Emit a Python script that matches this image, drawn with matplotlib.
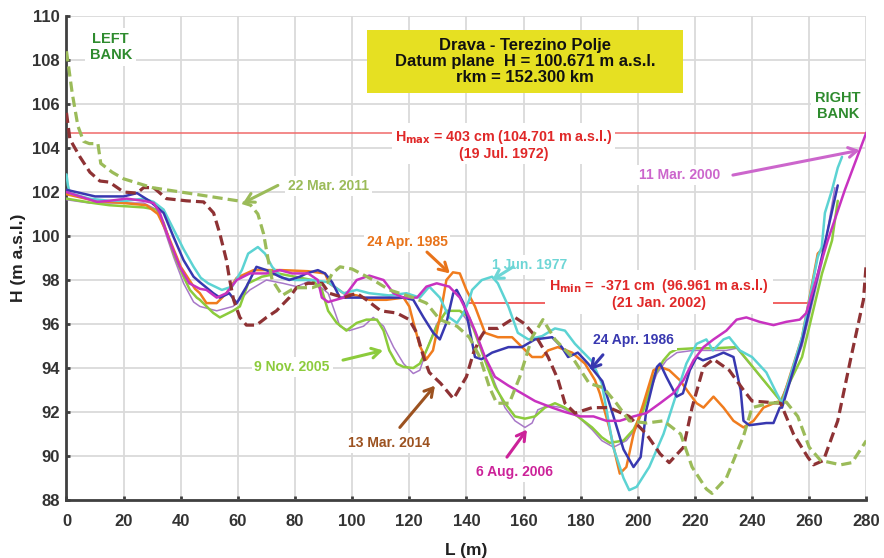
import numpy as np
import matplotlib
matplotlib.use('Agg')
import matplotlib.pyplot as plt
from matplotlib.patches import Rectangle

plt.rcParams['font.family'] = ['Liberation Sans', 'DejaVu Sans']
plt.rcParams['font.weight'] = 'bold'

# cross-section profiles, (L [m], H [m a.s.l.])
mar2011 = [(0, 108.4), (2, 106.5), (4, 105.0), (6, 104.3), (8, 104.2), (11, 104.2), (12, 103.3),
           (16, 102.9), (20, 102.6), (30, 102.2), (40, 102.0), (50, 101.8), (60, 101.6), (62, 101.5),
           (64.5, 101.4), (67, 101.0), (69, 100.1), (70.5, 99.0), (72, 98.0), (75.5, 97.3), (80, 97.65),
           (86, 97.65), (91.5, 97.9), (93, 98.3), (95.8, 98.6), (100, 98.5), (107.4, 98.0), (113, 97.55),
           (121.4, 97.2), (126, 96.95), (130.7, 96.2), (136.7, 95.9), (141, 95.4), (144.7, 94.5),
           (148, 93.15), (150.6, 92.4), (155, 92.4), (158.7, 93.6), (163, 95.4), (166.8, 96.2),
           (171, 95.3), (177, 94.5), (181.5, 93.6), (183, 93.3), (188, 93.1), (192.5, 92.4), (197, 91.6),
           (203, 91.5), (209, 91.6), (215, 91.0), (219, 89.5), (224, 88.5), (226, 88.3), (231, 89.0),
           (237, 90.9), (240, 92.2), (246, 92.4), (252, 92.45), (256, 91.8), (260, 90.4), (264, 89.8),
           (271, 89.6), (275, 89.7), (280, 90.7)]

mar2014 = [(0, 105.6), (1.2, 104.4), (4.7, 103.6), (8.2, 102.9), (11.7, 102.5), (15, 102.45), (20, 102.0),
           (24.7, 101.95), (27, 102.2), (30.5, 102.2), (35, 101.7), (42, 101.6), (48, 101.55), (51.5, 101.05),
           (53.7, 100.1), (56, 98.9), (57, 98.1), (58.5, 97.1), (60.7, 96.3), (63, 95.95), (66.5, 95.95),
           (70, 96.3), (73.5, 96.6), (78, 97.2), (80.5, 97.65), (84.5, 97.85), (89.5, 97.85), (92, 97.4),
           (97, 97.2), (101.6, 97.4), (105, 97.1), (110, 96.6), (115.6, 96.5), (120, 96.2), (122.6, 95.6),
           (125, 94.5), (127, 93.8), (131, 93.3), (135.5, 92.6), (140, 93.6), (142.5, 94.7), (145, 95.4),
           (147, 95.8), (151, 95.8), (157, 96.3), (160.5, 96.0), (165, 95.3), (168.6, 94.5), (172, 93.5),
           (174.5, 92.4), (178, 91.95), (184, 92.2), (190, 92.2), (197, 91.8), (203, 91.0), (207.8, 90.1),
           (211, 89.7), (216, 90.4), (219, 92.2), (223, 94.05), (226.5, 94.4), (232, 93.9), (237, 93.0),
           (240, 92.5), (245, 92.45), (250, 92.4), (254.5, 91.0), (259.5, 89.95), (261.5, 89.6), (265, 89.8),
           (270, 91.6), (274.5, 94.4), (279, 97.1), (280, 98.8)]

jun1977 = [(0, 102.8), (0.5, 102.3), (1.2, 101.95), (8, 101.7), (15, 101.6), (21, 101.6), (27, 101.7),
           (30.5, 101.55), (34, 101.2), (37.5, 100.3), (41, 99.4), (44.5, 98.6), (47, 98.1), (49.6, 97.85),
           (54.4, 97.55), (58, 97.7), (61.4, 98.45), (63.6, 99.2), (67, 99.5), (69.5, 99.2), (72, 98.6),
           (75.4, 98.1), (80, 98.0), (86, 98.0), (91.6, 97.9), (97, 97.4), (101.6, 97.55), (106, 97.4),
           (113, 97.3), (119, 97.4), (123.7, 97.2), (127, 97.7), (130.7, 97.2), (134, 96.3), (136.7, 96.05),
           (139, 96.5), (141, 97.1), (142, 97.55), (145.4, 98.0), (149, 98.15), (151, 97.85), (154.7, 96.8),
           (158, 95.6), (161.7, 95.3), (166.5, 95.45), (171, 95.8), (174.5, 95.7), (178, 95.1), (184, 94.3),
           (187.4, 93.3), (191.4, 90.4), (195, 89.0), (197, 88.45), (199.6, 88.6), (204, 89.5), (209, 91.0),
           (213.6, 92.85), (217, 94.2), (220.6, 95.1), (224, 95.3), (226.3, 94.8), (230, 95.3), (232, 95.4),
           (235.7, 94.8), (240, 94.5), (245, 93.8), (248.6, 92.85), (250.5, 92.4), (257.5, 95.4), (263, 99.05),
           (264.4, 99.5), (265.5, 101.05), (268, 102.1), (270, 103.1), (271.5, 103.6)]

apr1985 = [(0, 101.9), (10, 101.6), (20, 101.5), (28, 101.4), (32, 101.0), (35, 100.2), (40, 98.6),
           (45, 97.6), (46.7, 97.4), (49, 96.95), (52.6, 96.95), (56, 97.4), (59.6, 98.1), (65.5, 98.45),
           (70, 98.45), (75.4, 98.45), (84.6, 98.4), (90.5, 98.3), (92, 97.85), (97, 97.4), (101.6, 97.3),
           (106, 97.1), (112, 97.1), (118, 97.2), (120, 96.8), (121.5, 96.05), (123.7, 95.0), (126, 94.4),
           (128.3, 94.8), (130.7, 96.3), (133, 98.0), (135.3, 98.35), (137.7, 98.3), (140, 97.55),
           (143, 96.8), (146.5, 95.6), (151, 95.4), (156, 95.4), (159.5, 94.95), (163, 94.5), (166.5, 94.5),
           (168.6, 94.8), (172, 94.95), (177, 94.7), (181.5, 94.2), (185, 93.45), (186.7, 92.85), (190, 91.3),
           (192.6, 89.8), (193.7, 89.2), (196, 89.5), (198.5, 91.0), (202, 92.4), (205.5, 93.9), (207.8, 94.05),
           (211, 93.9), (214.7, 93.45), (218, 92.85), (220.6, 92.4), (223, 92.2), (226.5, 92.7), (230, 92.2),
           (233.5, 91.6), (237, 91.3), (240.5, 91.6), (244, 92.2), (248.5, 92.45), (250.5, 92.5),
           (257.5, 95.4), (263, 99.2), (264.5, 99.4)]

apr1986 = [(0, 102.1), (10, 101.8), (20, 101.8), (24.7, 101.95), (29, 101.6), (34, 101.05), (37.5, 99.95),
           (41, 98.9), (44.5, 98.15), (46.7, 97.9), (51.4, 97.4), (53.7, 97.2), (57, 97.4), (59.6, 96.95),
           (63, 97.7), (66.5, 98.6), (70, 98.45), (74.7, 98.15), (78, 98.0), (81.7, 98.15), (84, 98.3),
           (88, 98.45), (90.5, 98.3), (93, 97.9), (95.7, 97.2), (101.6, 97.2), (110, 97.2), (118, 97.2),
           (121.4, 97.1), (125, 96.3), (128.4, 95.6), (130.7, 95.3), (133, 96.05), (135.4, 97.4),
           (136.6, 97.55), (139, 96.95), (140, 96.5), (143, 94.5), (145.3, 94.4), (149, 94.7), (154.7, 94.95),
           (159.4, 94.95), (164, 95.3), (170, 95.4), (173.4, 94.95), (175.6, 94.5), (179, 94.7), (182.6, 94.2),
           (187.6, 93.4), (191.5, 91.8), (195, 90.3), (198.5, 89.5), (201, 89.95), (203, 92.1), (206.7, 94.05),
           (207.8, 94.2), (210, 93.6), (213.6, 92.7), (215.8, 92.85), (218.2, 93.9), (220.6, 94.5),
           (222.8, 94.35), (226.3, 94.5), (230, 94.7), (233.5, 94.5), (236, 93.0), (237, 91.6), (239, 91.4),
           (245, 91.5), (247.5, 91.5), (249.7, 92.2), (250.5, 92.2), (257.5, 95.2), (264, 98.8), (270, 102.3)]

mar2000 = [(0, 102.0), (4.7, 101.8), (10.7, 101.55), (15, 101.6), (21, 101.7), (27, 101.6), (30.5, 101.5),
           (32.7, 101.05), (36, 99.8), (39.7, 98.6), (43, 97.85), (46.7, 97.6), (49, 97.55), (52.6, 97.2),
           (56, 97.4), (59.6, 98.0), (64.2, 98.3), (70, 98.3), (74.7, 98.45), (79, 98.3), (84.6, 98.3),
           (88, 98.0), (89.4, 97.2), (91.6, 97.0), (97, 97.2), (101.6, 98.0), (106, 98.2), (111, 98.0),
           (114.5, 97.4), (118, 97.2), (122.7, 97.2), (126, 97.7), (129.6, 97.85), (134, 97.7), (137.7, 97.2),
           (140, 96.6), (143, 95.7), (146.5, 94.5), (150, 93.6), (154.7, 93.2), (159.4, 92.85), (164, 92.5),
           (170, 92.2), (174.5, 92.0), (180, 91.8), (184.5, 91.8), (189, 91.6), (193.7, 91.6), (198.5, 91.8),
           (203, 91.95), (207.8, 92.4), (212.4, 92.85), (216, 93.45), (219.5, 94.35), (223, 94.95),
           (226.5, 95.3), (231, 95.7), (234.6, 96.2), (238, 96.3), (242.6, 96.1), (247.5, 95.95), (252, 96.1),
           (256.7, 96.2), (259, 96.5), (261, 97.4), (266.5, 99.8), (272.5, 102.1), (280, 104.7)]

nov2005 = [(0, 101.7), (9.3, 101.5), (15, 101.4), (27, 101.3), (31.6, 101.2), (34, 100.6), (37.5, 99.2),
           (41, 98.15), (43.2, 97.55), (45.6, 97.2), (46.7, 97.1), (51.4, 96.5), (53.7, 96.3), (58.3, 96.6),
           (60.7, 96.8), (63.6, 97.85), (68.4, 98.15), (74, 98.3), (80, 98.15), (86, 98.0), (89.4, 97.55),
           (91.6, 96.6), (94.6, 96.05), (98, 95.7), (101.6, 96.05), (105, 96.2), (108.7, 96.2), (111, 95.7),
           (113, 94.8), (115.6, 94.2), (118, 94.05), (121.4, 94.0), (123.7, 94.2), (126, 94.8), (129.6, 95.9),
           (133, 96.6), (137.7, 96.6), (141, 96.3), (143, 95.6), (146.5, 94.35), (150, 93.15), (153.5, 92.4),
           (157, 91.8), (160.5, 91.7), (164, 91.8), (167.5, 92.2), (171, 92.4), (174.5, 92.2), (179, 91.8),
           (184, 91.3), (187.4, 90.85), (190.2, 90.6), (195, 90.7), (198.5, 91.2), (202, 92.1), (205.5, 93.6),
           (209, 94.35), (211.3, 94.7), (213.6, 94.85), (220, 94.9), (227, 94.9), (234.6, 94.95), (250, 92.5),
           (257.5, 94.5), (264.5, 98.3), (268, 99.8), (270, 101.6)]

aug2006 = [(0, 101.65), (8, 101.5), (15, 101.5), (27, 101.5), (31.6, 101.2), (34, 100.4), (37.5, 99.05),
           (41, 97.85), (44.5, 97.0), (46.7, 96.8), (52.6, 96.6), (58.3, 96.8), (64.2, 97.55), (70, 98.0),
           (75.8, 97.85), (80.6, 97.7), (86, 98.0), (91.6, 97.4), (93, 96.9), (95.7, 95.9), (99, 95.7),
           (104, 95.9), (107.4, 96.3), (111, 95.9), (114.5, 94.95), (118, 94.2), (121.4, 93.75), (123.7, 93.9),
           (126, 94.8), (129.6, 96.0), (133, 96.6), (137.7, 96.6), (143, 95.7), (146.5, 94.5), (150, 93.3),
           (153.5, 92.2), (157, 91.6), (160.5, 91.3), (163, 91.5), (165, 92.1), (168.6, 92.3), (173.4, 92.2),
           (179, 91.8), (184, 91.2), (187.4, 90.7), (191.5, 90.4), (196, 90.7), (199.6, 91.3), (203, 92.55),
           (206.7, 93.75), (210, 94.35), (213.7, 94.7), (219.3, 94.8), (225, 94.8), (231, 94.8), (234.6, 94.9),
           (250, 92.5), (257.5, 95.0), (264.5, 98.8), (269, 102.2)]

h_max = 104.701
h_min = 96.961

fig = plt.figure(figsize=(8.84, 5.58), dpi=100)
ax = fig.add_axes([0.0752, 0.1039, 0.9048, 0.8674])


def draw(pts, color, lw=1.8, ls='-', z=3):
    a = np.array(pts)
    ax.plot(a[:, 0], a[:, 1], color=color, lw=lw, ls=ls, zorder=z, solid_capstyle='round')


draw(aug2006, '#A878C8', lw=1.1)
draw(nov2005, '#8CCB3C')
draw(apr1985, '#F07C1E')
draw(jun1977, '#5CD3D3')
draw(apr1986, '#3838B0')
draw(mar2000, '#C832C0')
draw(mar2014, '#8E3234', lw=2.3, ls=(0, (3.2, 1.6)), z=4)
draw(mar2011, '#9BBB59', lw=2.3, ls=(0, (3.2, 1.6)), z=4)

# historic max / min water levels
ax.plot([0, 280], [h_max, h_max], color='#F06A6A', lw=1.1, zorder=2)
ax.plot([140.5, 260], [h_min, h_min], color='#EE3838', lw=1.1, zorder=2)

red = '#E02828'
ax.text(153, 104.15, 'H$_{\\mathbf{max}}$ = 403 cm (104.701 m a.s.l.)\n(19 Jul. 1972)', color=red,
        fontsize=10.3, ha='center', va='center', linespacing=1.1, zorder=6,
        bbox=dict(boxstyle='square,pad=0.2', fc='white', ec='none'))
ax.text(207.5, 97.4, 'H$_{\\mathbf{min}}$ =  -371 cm  (96.961 m a.s.l.)\n(21 Jan. 2002)', color=red,
        fontsize=10.3, ha='center', va='center', linespacing=1.1, zorder=6,
        bbox=dict(boxstyle='square,pad=0.3', fc='white', ec='none'))

# info box
ax.add_patch(Rectangle((105.2, 106.5), 110.6, 2.86, fc='#E6E022', ec='none', zorder=6))
ax.text(160.5, 107.93, 'Drava - Terezino Polje\nDatum plane  H = 100.671 m a.s.l.\nrkm = 152.300 km',
        ha='center', va='center', fontsize=12, linespacing=1.1, color='#111111', zorder=7)

# banks
bank = '#2E8B2E'
ax.text(15.5, 108.6, 'LEFT\nBANK', color=bank, fontsize=10.5, ha='center', va='center', linespacing=1.15,
        zorder=6, bbox=dict(boxstyle='square,pad=0.3', fc='white', ec='none'))
ax.text(270, 105.9, 'RIGHT\nBANK', color=bank, fontsize=10.5, ha='center', va='center', linespacing=1.15,
        zorder=6, bbox=dict(boxstyle='square,pad=0.3', fc='white', ec='none'))


def label(txt, pos, color, ha='center'):
    ax.text(pos[0], pos[1], txt, color=color, fontsize=10, ha=ha, va='center', zorder=6,
            bbox=dict(boxstyle='square,pad=0.2', fc='white', ec='none'))


def arrow(tail, tip, color):
    ax.annotate('', xy=tip, xytext=tail, zorder=6,
                arrowprops=dict(arrowstyle='->,head_length=0.6,head_width=0.35', color=color, lw=2.2,
                                shrinkA=0, shrinkB=0))


label('22 Mar. 2011', (77.5, 102.27), '#9BBB59', ha='left')
arrow((74, 102.3), (61.8, 101.5), '#9BBB59')
label('24 Apr. 1985', (119.3, 99.73), '#E8731A')
arrow((126.2, 99.27), (134.2, 98.3), '#E8731A')
label('1 Jun. 1977', (162.3, 98.68), '#6ED6D6')
arrow((156.4, 98.6), (149, 98.0), '#6ED6D6')
label('24 Apr. 1986', (198.6, 95.27), '#3838B0')
arrow((187.8, 94.6), (183.2, 93.9), '#3838B0')
label('9 Nov. 2005', (79, 94.05), '#8CCB3C')
arrow((96.8, 94.36), (110.8, 94.8), '#8CCB3C')
label('13 Mar. 2014', (113, 90.6), '#9C5220')
arrow((116.7, 91.3), (129, 93.2), '#9C5220')
label('6 Aug. 2006', (157, 89.27), '#CC2299')
arrow((154.2, 89.95), (161.2, 91.2), '#CC2299')
label('11 Mar. 2000', (214.7, 102.77), '#CC66CC')
arrow((233.3, 102.77), (277.7, 103.9), '#CC66CC')

ax.set_xlim(0, 280)
ax.set_ylim(88, 110)
ax.set_xticks(np.arange(0, 281, 20))
ax.set_yticks(np.arange(88, 111, 2))
ax.grid(True, color='#DADADA', lw=1.3, zorder=0)
ax.set_axisbelow(True)
for s in ['top', 'right']:
    ax.spines[s].set_visible(False)
for s in ['left', 'bottom']:
    ax.spines[s].set_color('#404040')
    ax.spines[s].set_linewidth(2)
ax.tick_params(direction='in', length=3, width=2, color='#404040', labelsize=12, labelcolor='#333333', pad=5)
ax.tick_params(axis='x', pad=10)
for lbl in ax.get_xticklabels() + ax.get_yticklabels():
    lbl.set_fontweight('bold')

ax.set_xlabel('L (m)', fontsize=12.5, fontweight='bold', color='#222222', labelpad=10)
ax.set_ylabel('H (m a.s.l.)', fontsize=12.5, fontweight='bold', color='#222222', labelpad=4)

fig.savefig('out.png', dpi=100)
